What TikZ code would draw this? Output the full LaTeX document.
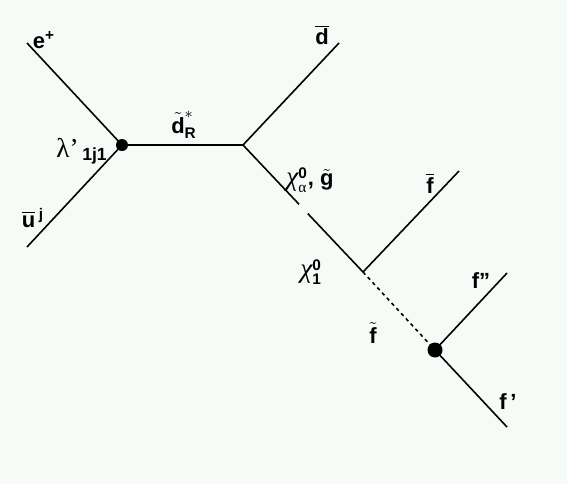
\documentclass[tikz,border=0pt]{standalone}
\usepackage{amsmath}
\usepackage{fontspec}
\setmainfont{Liberation Sans}
\setsansfont{Liberation Sans}
\newfontfamily\grk{Liberation Serif}
\usepackage{tikz}
\usetikzlibrary{calc}
\definecolor{paperbg}{HTML}{F7FBF7}
\newcommand\gk[1]{{\grk\mdseries\fontsize{15.5}{17}\selectfont #1}}
\tikzset{
  leg/.style={line width=0.9pt},
  prop/.style={line width=1.5pt},
  sprop/.style={line width=0.9pt, dash pattern=on 2pt off 2pt},
  blob/.style={circle, fill=black, inner sep=0pt},
  plab/.style={font=\fontsize{12.5}{14}\selectfont\bfseries\sffamily, inner sep=0pt},
}

\begin{document}
\begin{tikzpicture}[x=0.02cm, y=-0.02cm]
  \fill[paperbg] (0,0) rectangle (567,484);
  % vertices
  \node[blob, minimum size=12*0.02cm] (prod) at (122,145) {};
  \coordinate (splt) at (243,145);
  \coordinate (dec) at (363,272);
  \node[blob, minimum size=15*0.02cm] (sfd) at (435,350) {};
  % outer ends
  \coordinate (ein) at (27,43);
  \coordinate (uin) at (27,247);
  \coordinate (dout) at (339,43);
  \coordinate (fbout) at (459,171);
  \coordinate (fppout) at (507,273);
  \coordinate (fpout) at (507,427);
  \coordinate (gapA) at ($(splt)!0.467!(dec)$);
  \coordinate (gapB) at ($(splt)!0.54!(dec)$);
  % lines
  \draw[leg] (ein) -- (prod.center);
  \draw[leg] (uin) -- (prod.center);
  \draw[prop] (prod.center) -- (splt);
  \draw[leg] (splt) -- (dout);
  \draw[leg] (splt) -- (gapA);
  \draw[leg] (gapB) -- (dec);
  \draw[leg] (dec) -- (fbout);
  \draw[sprop] (dec) -- (sfd.center);
  \draw[leg] (sfd.center) -- (fppout);
  \draw[leg] (sfd.center) -- (fpout);
  % labels
  \node[plab] (lep) at (44,40) {e\textsuperscript{+}};
  \node[plab, anchor=base west] (lam) at (56,157) {\gk{λ’}\,\raisebox{-0.3ex}{\fontsize{10}{11}\selectfont 1j1}};
  \node[plab] (ubar) at (33,218) {$\overline{\text{u}}$\,\textsuperscript{j}};
  \node[plab] (sq) at (184,125) {$\tilde{\text{d}}^{*}_{\text{R}}$};
  \node[plab] (dbar) at (322,35) {$\overline{\text{d}}$};
  \node[plab] (chia) at (310,180) {$\text{\gk{\itshape χ}}^{\text{0}}_{\text{\grk\mdseries α}}$, $\tilde{\text{g}}$};
  \node[plab] (fbar) at (430,183) {$\overline{\text{f}}$};
  \node[plab] (chi1) at (311,272) {$\text{\gk{\itshape χ}}^{\text{0}}_{\text{1}}$};
  \node[plab] (sf) at (373,333) {$\tilde{\text{f}}$};
  \node[plab] (fpp) at (481,281) {f''};
  \node[plab] (fp) at (508,402) {f\,'};
\end{tikzpicture}
\end{document}
